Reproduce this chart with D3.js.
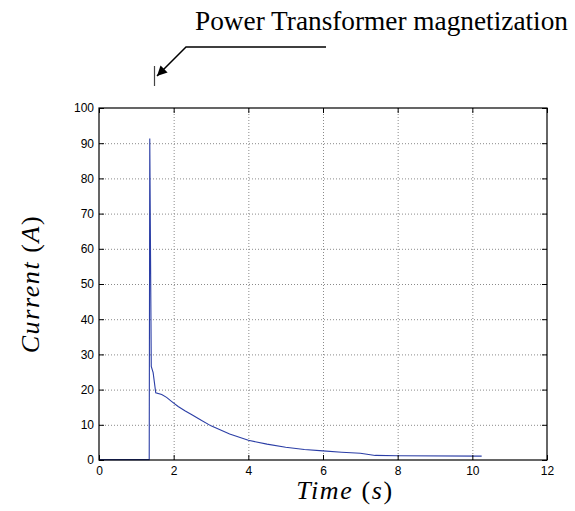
<!DOCTYPE html>
<html>
<head>
<meta charset="utf-8">
<script src="https://cdn.jsdelivr.net/npm/d3@7"></script>
<style>
  body { margin: 0; background: #fff; }
  .tick text { font-family: "Liberation Sans", Arial, sans-serif; font-size: 12px; fill: #000; }
  .grid line { stroke: #8a8a8a; stroke-dasharray: 1,2; }
  .grid path { display: none; }
</style>
</head>
<body>
<div id="chart"></div>
<script>
// data
const timeS    = [0, 1.345, 1.36, 1.40, 1.45, 1.52, 1.68, 1.81, 1.95, 2.12, 2.3, 2.5, 2.75, 3.0, 3.5, 4.0, 4.5, 5.0, 5.5, 6.0, 6.5, 7.0, 7.4, 8.0, 10.25];
const currentA = [0.1, 0.1, 91.3, 26.6, 24.8, 19.1, 18.6, 17.8, 16.6, 15.2, 14.0, 12.8, 11.2, 9.7, 7.4, 5.6, 4.5, 3.6, 3.0, 2.6, 2.2, 1.9, 1.3, 1.2, 1.1];
const xTicks = [0, 2, 4, 6, 8, 10, 12];
const yTicks = [0, 10, 20, 30, 40, 50, 60, 70, 80, 90, 100];
const annotation = "Power Transformer magnetization";

const W = 575, H = 511;
const margin = {top: 108, right: 28, bottom: 51, left: 99};
const width = W - margin.left - margin.right,
      height = H - margin.top - margin.bottom;

const svg = d3.select("#chart").append("svg")
  .attr("width", W)
  .attr("height", H);

const g = svg.append("g")
  .attr("transform", "translate(" + margin.left + "," + margin.top + ")");

const x = d3.scaleLinear().domain([0, 12]).range([0, width]);
const y = d3.scaleLinear().domain([0, 100]).range([height, 0]);

// grid
g.append("g").attr("class", "grid")
  .attr("transform", "translate(0," + height + ")")
  .call(d3.axisBottom(x).tickValues(xTicks.slice(1, -1)).tickSize(-height).tickFormat(""));
g.append("g").attr("class", "grid")
  .call(d3.axisLeft(y).tickValues(yTicks.slice(1, -1)).tickSize(-width).tickFormat(""));

// data line
const line = d3.line()
  .x(function(d) { return x(d[0]); })
  .y(function(d) { return y(d[1]); });

g.append("path")
  .datum(timeS.map(function(t, i) { return [t, currentA[i]]; }))
  .attr("fill", "none")
  .attr("stroke", "#2b3ea6")
  .attr("stroke-width", 1.1)
  .attr("d", line);

// axes, ticks pointing inwards
function clean(sel) { sel.select(".domain").remove(); sel.selectAll("line").attr("stroke", "#000"); }

g.append("g")
  .attr("transform", "translate(0," + height + ")")
  .call(d3.axisBottom(x).tickValues(xTicks).tickSizeInner(-5).tickSizeOuter(0).tickPadding(6))
  .call(clean)
  .selectAll("text").attr("dy", "0.71em");
g.append("g")
  .call(d3.axisLeft(y).tickValues(yTicks).tickSizeInner(-5).tickSizeOuter(0).tickPadding(5))
  .call(clean);
g.append("g")
  .call(d3.axisTop(x).tickValues(xTicks).tickSizeInner(-5).tickSizeOuter(0).tickFormat(""))
  .call(clean);
g.append("g")
  .attr("transform", "translate(" + width + ",0)")
  .call(d3.axisRight(y).tickValues(yTicks).tickSizeInner(-5).tickSizeOuter(0).tickFormat(""))
  .call(clean);

// box
g.append("rect")
  .attr("width", width)
  .attr("height", height)
  .attr("fill", "none")
  .attr("stroke", "#000")
  .attr("stroke-width", 1.2);

// axis titles
const xt = svg.append("text")
  .attr("x", 345)
  .attr("y", 499)
  .attr("text-anchor", "middle")
  .style("font-family", "'Liberation Serif', serif")
  .style("font-size", "26px")
  .style("letter-spacing", "1.6px");
xt.append("tspan").style("font-style", "italic").text("Time");
xt.append("tspan").text(" (");
xt.append("tspan").style("font-style", "italic").text("s");
xt.append("tspan").text(")");

const yt = svg.append("text")
  .attr("transform", "translate(39," + (margin.top + height / 2) + ") rotate(-90)")
  .attr("text-anchor", "middle")
  .style("font-family", "'Liberation Serif', serif")
  .style("font-size", "26px")
  .style("letter-spacing", "1.6px");
yt.append("tspan").style("font-style", "italic").text("Current");
yt.append("tspan").text(" (");
yt.append("tspan").style("font-style", "italic").text("A");
yt.append("tspan").text(")");

// annotation with arrow
svg.append("text")
  .attr("x", 195)
  .attr("y", 30)
  .style("font-family", "'Liberation Serif', serif")
  .style("font-size", "27.3px")
  .text(annotation);

svg.append("defs").append("marker")
  .attr("id", "head")
  .attr("viewBox", "0 0 10 10")
  .attr("refX", 10).attr("refY", 5)
  .attr("markerWidth", 13).attr("markerHeight", 10)
  .attr("markerUnits", "userSpaceOnUse")
  .attr("orient", "auto")
  .append("path").attr("d", "M0,0L10,5L0,10z").attr("fill", "#000");

svg.append("path")
  .attr("d", "M326,47L186,47L157,76")
  .attr("fill", "none")
  .attr("stroke", "#000")
  .attr("stroke-width", 1.5)
  .attr("marker-end", "url(#head)");
svg.append("line")
  .attr("x1", 154.5).attr("x2", 154.5)
  .attr("y1", 66).attr("y2", 86)
  .attr("stroke", "#444")
  .attr("stroke-width", 1.2);
</script>
</body>
</html>
